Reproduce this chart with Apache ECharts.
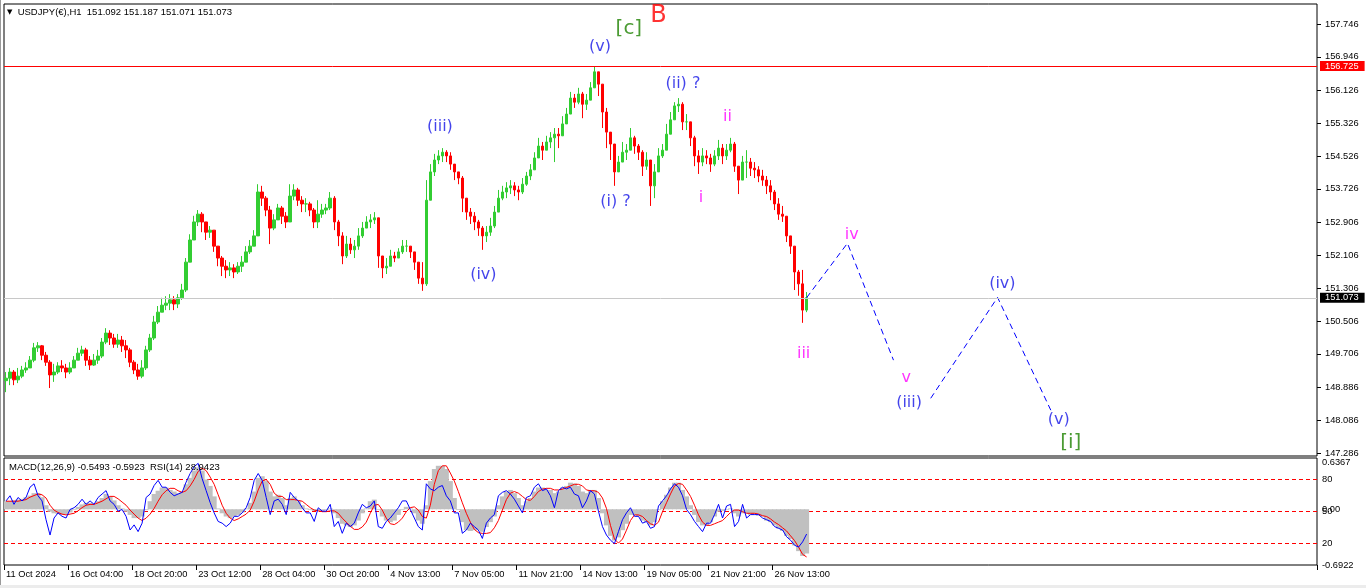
<!DOCTYPE html>
<html><head><meta charset="utf-8">
<script src="https://cdn.jsdelivr.net/npm/echarts@6/dist/echarts.min.js"></script>
<style>
html,body{margin:0;padding:0;background:#fff;overflow:hidden}
#c{width:1366px;height:588px;position:absolute;left:0;top:0}
.fr{position:absolute}
</style></head><body>
<div id="c"></div>
<div class="fr" style="left:0;top:0;width:1px;height:588px;background:#9a9a9a"></div>
<div class="fr" style="left:0;top:585px;width:1366px;height:3px;background:#ececec"></div>
<script>
// ---------- tick labels ----------
const timeLabels = ["11 Oct 2024","16 Oct 04:00","18 Oct 20:00","23 Oct 12:00","28 Oct 04:00","30 Oct 20:00","4 Nov 13:00","7 Nov 05:00","11 Nov 21:00","14 Nov 13:00","19 Nov 05:00","21 Nov 21:00","26 Nov 13:00"];
const priceTicks = [157.746,156.946,156.126,155.326,154.526,153.726,152.906,152.106,151.306,150.506,149.706,148.886,148.086,147.286];
const macdTicks = [-0.6922, 0, 0.6367];
const rsiLevels = [80, 50, 20];

// ---------- readouts / levels ----------
const lastBar = [151.092, 151.187, 151.071, 151.073];
const macdReadout = [-0.5493, -0.5923];
const rsiReadout = 28.9423;
const hLineLevel = 156.725;
const bidLevel = 151.073;

// ---------- price bars (4-hour slots, open = previous close) ----------
const firstOpen = 149.05;
const closes = [
149.11,149.26,149.07,149.16,149.31,149.36,149.55,149.85,149.90,149.67,
149.50,149.19,149.26,149.41,149.36,149.26,149.36,149.55,149.72,149.80,
149.55,149.43,149.55,149.65,149.99,150.21,150.09,149.94,150.04,149.90,
149.80,149.50,149.31,149.16,149.36,149.80,150.09,150.48,150.72,150.89,
150.94,151.02,150.92,151.07,151.26,151.94,152.48,152.92,153.11,152.92,
152.67,152.72,152.33,152.04,151.84,151.75,151.80,151.70,151.84,151.94,
152.19,152.33,152.58,153.65,153.50,153.21,152.77,152.97,153.26,153.06,
152.92,153.55,153.70,153.45,153.36,153.36,153.21,152.92,153.11,153.21,
153.26,153.50,152.92,152.58,152.09,152.38,152.24,152.33,152.58,152.77,
152.92,152.97,153.02,152.09,151.80,151.84,152.09,152.04,152.19,152.33,
152.33,152.19,151.94,151.55,151.41,153.45,154.14,154.43,154.53,154.62,
154.53,154.33,154.14,153.99,153.50,153.16,153.06,152.92,152.77,152.58,
152.67,152.82,153.16,153.50,153.65,153.75,153.80,153.70,153.65,153.84,
154.04,154.19,154.48,154.77,154.67,154.87,154.97,155.06,155.02,155.31,
155.55,155.94,155.84,156.04,155.79,155.89,156.19,156.58,156.28,155.60,
155.11,154.82,154.14,154.38,154.62,154.67,154.97,154.77,154.62,154.28,
154.43,153.80,154.14,154.53,154.67,155.06,155.41,155.75,155.79,155.36,
155.36,154.97,154.53,154.38,154.53,154.48,154.33,154.53,154.72,154.53,
154.67,154.82,154.28,153.94,154.38,154.38,154.23,154.19,154.04,153.94,
153.80,153.65,153.36,153.11,153.06,152.58,152.33,151.70,151.41,150.77,
151.073];
const highs = [
149.26,149.36,149.31,149.36,149.41,149.50,149.65,149.97,149.99,149.92,
149.75,149.55,149.46,149.50,149.55,149.46,149.50,149.65,149.85,149.90,
149.85,149.65,149.70,149.80,150.09,150.33,150.28,150.19,150.19,150.14,
150.04,149.85,149.55,149.46,149.55,149.90,150.19,150.63,150.87,151.07,
151.11,151.16,151.11,151.16,151.41,152.04,152.62,153.07,153.21,153.16,
152.92,152.82,152.58,152.28,152.09,151.99,151.94,151.89,151.94,152.09,
152.33,152.48,152.72,153.84,153.80,153.55,153.31,153.11,153.36,153.31,
153.16,153.84,153.84,153.75,153.55,153.50,153.41,153.26,153.45,153.36,
153.36,153.65,153.55,152.97,152.67,152.58,152.53,152.48,152.77,152.92,
153.06,153.11,153.16,152.53,152.09,152.04,152.24,152.19,152.28,152.48,
152.48,152.33,152.19,151.89,151.94,153.94,154.33,154.58,154.67,154.72,
154.67,154.62,154.33,154.14,154.04,153.45,153.26,153.16,152.97,152.82,
152.82,153.02,153.31,153.70,153.80,153.89,153.94,153.89,153.80,153.99,
154.14,154.33,154.62,154.97,154.87,155.02,155.11,155.21,155.21,155.50,
155.70,156.09,156.04,156.19,156.09,156.04,156.33,156.72,156.58,156.28,
155.70,155.06,154.77,154.53,154.87,154.82,155.21,155.02,154.82,154.67,
154.62,154.43,154.33,154.72,154.82,155.31,155.60,155.84,155.94,155.84,
155.55,155.26,155.02,154.67,154.72,154.67,154.58,154.67,154.92,154.82,
154.82,154.97,154.87,154.28,154.53,154.67,154.48,154.38,154.28,154.19,
154.04,153.94,153.70,153.50,153.31,152.92,152.58,152.33,151.75,151.75,
151.21];
const lows = [
148.77,148.94,148.94,148.99,149.11,149.24,149.36,149.50,149.75,149.55,
149.41,148.87,149.02,149.21,149.26,149.11,149.21,149.36,149.55,149.65,
149.41,149.31,149.41,149.46,149.60,149.94,149.92,149.85,149.85,149.75,
149.60,149.38,149.21,149.07,149.11,149.31,149.75,150.04,150.43,150.72,
150.77,150.77,150.77,150.82,151.02,151.21,151.94,152.48,152.82,152.67,
152.48,152.53,152.19,151.84,151.60,151.55,151.60,151.55,151.65,151.70,
151.94,152.14,152.38,152.58,153.31,153.06,152.38,152.72,153.06,152.87,
152.77,152.92,153.45,153.31,153.16,153.16,153.06,152.77,152.77,153.02,
153.11,153.21,152.72,152.33,151.89,152.04,152.14,152.04,152.24,152.53,
152.77,152.77,152.87,151.80,151.55,151.65,151.94,151.94,152.04,152.14,
152.19,152.04,151.75,151.41,151.24,151.36,153.45,154.04,154.33,154.38,
154.38,154.19,153.94,153.84,153.16,152.97,152.87,152.72,152.58,152.24,
152.43,152.58,152.77,153.21,153.45,153.50,153.60,153.55,153.45,153.60,
153.80,153.94,154.19,154.48,154.43,154.67,154.72,154.38,154.72,155.02,
155.31,155.70,155.70,155.79,155.45,155.65,155.99,156.28,155.99,155.21,
154.72,154.43,153.80,154.14,154.38,154.43,154.77,154.58,154.43,154.04,
154.19,153.31,153.50,154.23,154.48,154.67,155.16,155.50,155.60,155.16,
155.16,154.77,154.28,154.09,154.28,154.33,154.14,154.28,154.43,154.33,
154.43,154.62,154.14,153.60,154.14,153.99,154.04,153.99,153.89,153.80,
153.60,153.45,153.21,152.97,152.92,152.43,152.14,151.26,151.12,150.46,
150.72];

// ---------- indicator window ----------
const macdMain = [
0.10,0.10,0.11,0.12,0.13,0.15,0.17,0.20,0.20,0.15,
0.05,-0.03,-0.05,-0.06,-0.07,-0.06,-0.04,-0.01,0.03,0.06,
0.08,0.08,0.06,0.10,0.14,0.19,0.16,0.11,0.05,0.01,
-0.03,-0.07,-0.11,-0.11,-0.09,-0.01,0.10,0.19,0.23,0.27,
0.27,0.24,0.22,0.20,0.22,0.31,0.39,0.48,0.52,0.48,
0.37,0.29,0.16,0.01,-0.05,-0.09,-0.11,-0.09,-0.07,-0.04,
0.01,0.08,0.22,0.39,0.41,0.35,0.22,0.16,0.18,0.14,
0.05,0.14,0.16,0.10,0.05,0.01,-0.01,-0.02,-0.02,-0.02,
-0.01,0.01,-0.05,-0.11,-0.18,-0.20,-0.22,-0.20,-0.14,-0.05,
0.01,0.10,0.12,-0.01,-0.09,-0.14,-0.16,-0.14,-0.07,-0.01,
0.03,0.01,-0.05,-0.14,-0.18,0.05,0.35,0.50,0.54,0.54,
0.50,0.35,0.14,-0.01,-0.16,-0.26,-0.27,-0.26,-0.26,-0.28,
-0.22,-0.16,-0.09,0.05,0.16,0.22,0.24,0.20,0.14,0.05,
0.10,0.14,0.22,0.27,0.27,0.24,0.24,0.20,0.22,0.27,
0.29,0.33,0.32,0.29,0.22,0.20,0.24,0.24,0.14,-0.05,
-0.20,-0.33,-0.39,-0.35,-0.26,-0.18,-0.07,-0.07,-0.09,-0.14,
-0.16,-0.20,-0.16,-0.01,0.10,0.18,0.27,0.33,0.33,0.24,
0.16,0.05,-0.07,-0.16,-0.20,-0.20,-0.16,-0.09,-0.03,-0.02,
-0.01,0.01,-0.05,-0.09,-0.05,-0.05,-0.07,-0.07,-0.08,-0.09,
-0.14,-0.16,-0.20,-0.24,-0.27,-0.33,-0.37,-0.45,-0.52,-0.58,
-0.5493];
const macdSignal = [
0.10,0.10,0.10,0.10,0.11,0.12,0.15,0.17,0.19,0.18,
0.14,0.05,-0.01,-0.04,-0.06,-0.07,-0.06,-0.05,-0.02,0.02,
0.05,0.06,0.06,0.08,0.10,0.13,0.16,0.16,0.13,0.09,
0.05,-0.01,-0.06,-0.11,-0.14,-0.11,-0.06,0.01,0.10,0.18,
0.23,0.26,0.26,0.23,0.21,0.23,0.29,0.37,0.47,0.51,
0.48,0.40,0.31,0.18,0.05,-0.05,-0.11,-0.14,-0.12,-0.09,
-0.06,-0.01,0.10,0.24,0.35,0.37,0.31,0.20,0.16,0.16,
0.12,0.12,0.12,0.11,0.10,0.06,0.02,-0.01,-0.02,-0.03,
-0.03,-0.02,-0.02,-0.05,-0.11,-0.16,-0.21,-0.25,-0.25,-0.22,
-0.16,-0.05,0.05,0.06,-0.01,-0.11,-0.18,-0.19,-0.16,-0.11,
-0.03,0.02,0.03,-0.01,-0.09,-0.11,0.05,0.31,0.48,0.54,
0.54,0.45,0.35,0.22,0.08,-0.05,-0.16,-0.25,-0.29,-0.30,
-0.30,-0.29,-0.23,-0.14,-0.01,0.12,0.20,0.22,0.20,0.16,
0.12,0.11,0.16,0.22,0.25,0.26,0.26,0.24,0.24,0.25,
0.27,0.29,0.31,0.31,0.29,0.24,0.23,0.23,0.21,0.14,
0.01,-0.20,-0.37,-0.42,-0.37,-0.26,-0.14,-0.07,-0.07,-0.09,
-0.14,-0.18,-0.20,-0.16,-0.03,0.08,0.19,0.29,0.32,0.31,
0.24,0.16,0.05,-0.07,-0.16,-0.20,-0.20,-0.18,-0.16,-0.14,
-0.09,-0.04,-0.01,-0.01,-0.03,-0.05,-0.05,-0.05,-0.06,-0.08,
-0.09,-0.12,-0.16,-0.19,-0.23,-0.27,-0.33,-0.39,-0.47,-0.56,
-0.5923];
const rsiValues = [
59.9,64.7,56.7,63.1,59.9,63.1,72.7,75.9,64.7,59.9,
42.3,28.0,43.9,48.7,45.5,43.9,51.9,53.5,56.7,61.5,
56.7,59.9,56.7,63.1,66.3,69.5,59.9,56.7,50.3,51.9,
45.5,32.7,37.5,31.2,39.1,63.1,66.3,74.3,79.1,72.7,
72.7,67.9,64.7,66.3,67.9,77.5,85.5,91.9,95.0,80.7,
69.5,58.3,48.7,40.7,39.1,35.9,39.1,45.5,45.5,48.7,
53.5,63.1,79.1,85.5,79.1,63.1,47.1,59.9,61.5,56.7,
47.1,67.9,63.1,59.9,53.5,48.7,48.7,40.7,53.5,50.3,
50.3,56.7,35.9,40.7,29.6,39.1,35.9,39.1,48.7,56.7,
53.5,55.1,59.9,35.9,34.3,40.7,43.9,48.7,53.5,59.9,
59.9,51.9,43.9,35.9,32.7,75.9,71.1,69.5,72.7,74.3,
64.7,59.9,48.7,48.7,29.6,32.7,39.1,35.9,32.7,24.8,
39.1,43.9,47.1,64.7,67.9,69.5,66.3,61.5,55.1,48.7,
63.1,64.7,72.7,75.9,69.5,71.1,64.7,53.5,69.5,72.7,
71.1,72.7,66.3,64.7,53.5,59.9,69.5,66.3,50.3,35.9,
28.0,23.2,20.0,31.2,42.3,48.7,53.5,45.5,45.5,39.1,
40.7,34.3,35.9,55.1,59.9,64.7,71.1,75.9,72.7,64.7,
51.9,47.1,40.7,35.9,31.2,39.1,39.1,47.1,56.7,43.9,
55.1,56.7,35.9,40.7,56.7,43.9,47.1,47.1,47.1,43.9,
42.3,40.7,35.9,34.3,32.7,26.4,23.2,18.4,16.8,21.6,
28.94];

// ---------- wave projection (slot index, price) ----------
const projA = [[200,151.073],[210.2,152.40],[221.7,149.55]];
const projB = [[231,148.62],[247.7,151.08],[261,148.33]];

// ---------- wave labels (slot index, price) ----------
const minuetteText = ["(iii)","(iv)","(v)","(i) ?","(ii) ?","(iii)","(iv)","(v)"];
const minuetteX = [108.4,119.25,148.4,152.25,169.1,225.6,248.9,263];
const minuetteY = [155.247,151.625,157.185,153.418,156.283,148.517,151.406,148.102];
const minuteText = ["i","ii","iii","iv","v"];
const minuteX = [173.6,180.25,199.25,211.25,224.9];
const minuteY = [153.515,155.49,149.70,152.613,149.126];
const primaryText = ["[c]","[i]"];
const primaryX = [155.6,266];
const primaryY = [157.624,147.541];
const interText = ["B"];
const interX = [163];
const interY = [157.941];

// ---------- axis ranges ----------
const N_SLOTS = 328;
const PRICE_MIN = 147.213, PRICE_MAX = 158.234;
const MACD_MIN = -0.6922, MACD_MAX = 0.6367;
const SLOTS_PER_LABEL = 16;

// ---------- build ----------
const cats = Array.from({length: N_SLOTS}, (_, i) => String(i));
const candles = closes.map((c, i) => {
  const o = i === 0 ? firstOpen : closes[i - 1];
  return [o, c, Math.min(lows[i], o, c), Math.max(highs[i], o, c)];
});
const FONT = 'Liberation Sans, Arial, sans-serif';
const WFONT = 'DejaVu Sans, sans-serif';
const showTime = (idx) => idx % SLOTS_PER_LABEL === 0 && idx / SLOTS_PER_LABEL < timeLabels.length;

function labelSeries(texts, xs, ys, style) {
  return {
    type: 'scatter', xAxisIndex: 2, yAxisIndex: 0, symbolSize: 1, silent: true, z: 6,
    itemStyle: {color: 'rgba(0,0,0,0)'},
    data: texts.map((t, i) => ({name: t, value: [xs[i], ys[i]]})),
    label: Object.assign({show: true, position: 'inside', formatter: p => p.name, fontFamily: WFONT}, style)
  };
}

const chart = echarts.init(document.getElementById('c'), null, {renderer: 'canvas'});
chart.setOption({
  animation: false,
  backgroundColor: '#ffffff',
  title: [
    {text: '{t|▼}  USDJPY(€),H1  ' + lastBar.map(v => v.toFixed(3)).join(' '),
     left: 7, top: 7, padding: 0,
     textStyle: {fontSize: 9.5, fontWeight: 'normal', color: '#000', fontFamily: FONT,
       rich: {t: {fontSize: 7, color: '#000', fontFamily: 'DejaVu Sans'}}}},
    {text: 'MACD(12,26,9) ' + macdReadout.map(v => v.toFixed(4)).join(' ') + '  RSI(14) ' + rsiReadout.toFixed(4),
     left: 9, top: 462, padding: 0,
     textStyle: {fontSize: 9.5, fontWeight: 'normal', color: '#000', fontFamily: FONT}}
  ],
  grid: [
    {left: 4, top: 4, width: 1313, height: 452, show: true, borderColor: '#000', borderWidth: 1, backgroundColor: '#fff'},
    {left: 4, top: 458, width: 1313, height: 107, show: true, borderColor: '#000', borderWidth: 1, backgroundColor: '#fff'}
  ],
  xAxis: [
    {type: 'category', gridIndex: 0, data: cats, boundaryGap: true, show: false},
    {type: 'category', gridIndex: 1, data: cats, boundaryGap: true,
     axisLine: {show: false, onZero: false},
     axisTick: {show: true, interval: showTime, length: 5, lineStyle: {color: '#000'}},
     axisLabel: {interval: showTime, formatter: (v, idx) => timeLabels[idx / SLOTS_PER_LABEL] || '',
       align: 'left', margin: 5, color: '#000', fontSize: 9.3, fontFamily: FONT},
     splitLine: {show: false}},
    {type: 'value', gridIndex: 0, min: -0.5, max: N_SLOTS - 0.5, show: false, axisLine: {onZero: false}}
  ],
  yAxis: [
    {type: 'value', gridIndex: 0, position: 'right', min: PRICE_MIN, max: PRICE_MAX,
     splitLine: {show: false}, axisLine: {show: false, onZero: false},
     axisTick: {show: true, length: 4, lineStyle: {color: '#000'}, customValues: priceTicks},
     axisLabel: {customValues: priceTicks, formatter: v => v.toFixed(3), color: '#000',
       fontSize: 9.3, fontFamily: FONT, margin: 8}},
    {type: 'value', gridIndex: 1, position: 'right', min: MACD_MIN, max: MACD_MAX,
     splitLine: {show: false}, axisLine: {show: false, onZero: false}, axisTick: {show: false},
     axisLabel: {customValues: macdTicks, formatter: v => (v === 0 ? '0.00' : v.toFixed(4)),
       color: '#000', fontSize: 9.3, fontFamily: FONT, margin: 5, verticalAlignMaxLabel: 'top'}},
    {type: 'value', gridIndex: 1, position: 'right', min: 0, max: 100,
     axisLine: {show: false, onZero: false},
     axisTick: {show: false, customValues: rsiLevels},
     splitLine: {show: true, lineStyle: {color: '#ff0000', width: 1, type: [4, 3]}},
     axisLabel: {customValues: rsiLevels, formatter: v => String(v), color: '#000',
       fontSize: 9.3, fontFamily: FONT, margin: 5}}
  ],
  series: [
    {type: 'candlestick', xAxisIndex: 0, yAxisIndex: 0, data: candles, barWidth: 3, silent: true,
     itemStyle: {color: '#32cd32', color0: '#ff0000', borderColor: '#32cd32', borderColor0: '#ff0000', borderWidth: 1},
     markLine: {symbol: ['none', 'none'], silent: true, animation: false,
       data: [
         {yAxis: hLineLevel, lineStyle: {color: '#ff0000', width: 1, type: 'solid'},
          label: {show: true, position: 'end', formatter: hLineLevel.toFixed(3), color: '#fff',
            backgroundColor: '#ff0000', padding: [1, 6, 0, 5], distance: 3, fontSize: 9.3, fontFamily: FONT}},
         {yAxis: bidLevel, lineStyle: {color: '#c8c8c8', width: 1, type: 'solid'},
          label: {show: true, position: 'end', formatter: bidLevel.toFixed(3), color: '#fff',
            backgroundColor: '#000', padding: [1, 6, 0, 5], distance: 3, fontSize: 9.3, fontFamily: FONT}}
       ]}},
    {type: 'line', xAxisIndex: 2, yAxisIndex: 0, data: projA, symbol: 'none', silent: true, z: 4,
     lineStyle: {color: '#0000ff', width: 1, type: [6, 4]}},
    {type: 'line', xAxisIndex: 2, yAxisIndex: 0, data: projB, symbol: 'none', silent: true, z: 4,
     lineStyle: {color: '#0000ff', width: 1, type: [6, 4]}},
    labelSeries(minuetteText, minuetteX, minuetteY, {color: '#1414e6', fontSize: 16}),
    labelSeries(minuteText, minuteX, minuteY, {color: '#ff00ff', fontSize: 16}),
    labelSeries(primaryText, primaryX, primaryY, {color: '#1e8200', fontSize: 20}),
    labelSeries(interText, interX, interY, {color: '#ff0000', fontSize: 24}),
    {type: 'bar', xAxisIndex: 1, yAxisIndex: 1, data: macdMain, barWidth: 5, silent: true, z: 1,
     itemStyle: {color: '#c0c0c0'}},
    {type: 'line', xAxisIndex: 1, yAxisIndex: 1, data: macdSignal, symbol: 'none', silent: true, z: 3,
     lineStyle: {color: '#ff0000', width: 1}},
    {type: 'line', xAxisIndex: 1, yAxisIndex: 2, data: rsiValues, symbol: 'none', silent: true, z: 4,
     lineStyle: {color: '#0000ff', width: 1}}
  ]
});
</script>
</body></html>
